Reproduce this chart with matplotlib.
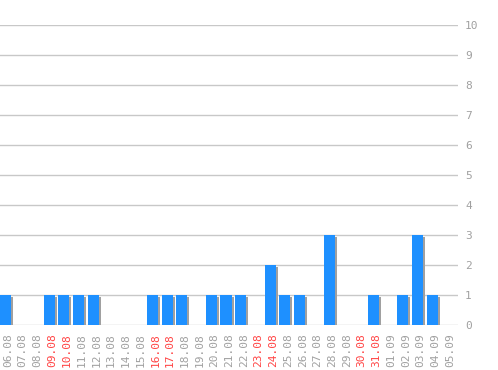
import matplotlib
matplotlib.use("Agg")
import matplotlib.pyplot as plt
import matplotlib.transforms as mtransforms

dates = ["06.08", "07.08", "08.08", "09.08", "10.08", "11.08", "12.08", "13.08",
         "14.08", "15.08", "16.08", "17.08", "18.08", "19.08", "20.08", "21.08",
         "22.08", "23.08", "24.08", "25.08", "26.08", "27.08", "28.08", "29.08",
         "30.08", "31.08", "01.09", "02.09", "03.09", "04.09", "05.09"]
values = [1, 0, 0, 1, 1, 1, 1, 0, 0, 0, 1, 1, 1, 0, 1, 1, 1, 0, 2, 1, 1, 0, 3, 0,
          0, 1, 0, 1, 3, 1, 0]
weekends = ["09.08", "10.08", "16.08", "17.08", "23.08", "24.08", "30.08", "31.08"]
yticks = list(range(0, 11))

W, H = 498, 370
fig = plt.figure(figsize=(W / 100, H / 100), dpi=100)
ax = fig.add_axes([0, 1 - 325 / H, 458 / W, 300 / H])

x = list(range(len(dates)))
shadow_tr = ax.transData + mtransforms.ScaledTranslation(2 / 100, -2 / 100, fig.dpi_scale_trans)
ax.bar(x, values, width=0.75, color="#a0a0a0", transform=shadow_tr, zorder=2, linewidth=0)
ax.bar(x, values, width=0.75, color="#1e90ff", zorder=3, linewidth=0)

ax.set_xlim(-0.34, 30.75)
ax.set_ylim(0, 10)
ax.set_yticks(yticks)
ax.yaxis.tick_right()
ax.grid(axis="y", color="#c8c8c8", linewidth=1, zorder=0)
for s in ax.spines.values():
    s.set_visible(False)

mono = "DejaVu Sans Mono"
ax.set_yticklabels([str(v) for v in yticks], fontsize=8, color="#a0a0a0", family=mono)
ax.tick_params(axis="y", length=0, pad=5)
ax.set_xticks(x)
ax.set_xticklabels(dates, rotation=90, fontsize=8, family=mono, va="top")
ax.tick_params(axis="x", length=0, pad=6)
off = mtransforms.ScaledTranslation(3 / 100, 0, fig.dpi_scale_trans)
for lab in ax.get_xticklabels():
    lab.set_color("#ff4444" if lab.get_text() in weekends else "#a0a0a0")
    lab.set_transform(lab.get_transform() + off)

fig.savefig("out.png", dpi=100)
